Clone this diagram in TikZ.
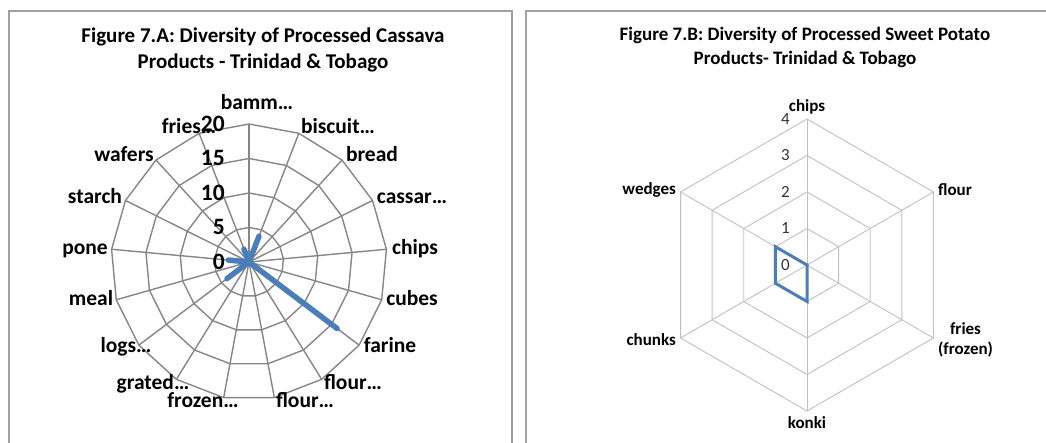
\documentclass[tikz,border=0pt]{standalone}
\usepackage{fontspec}
\setmainfont{Carlito}
\usetikzlibrary{calc}

\definecolor{seriesblue}{HTML}{4A7EBB}
\definecolor{gridgrey}{HTML}{868686}
\definecolor{gridlight}{HTML}{C0C0C0}
\definecolor{framegrey}{HTML}{A0A0A0}

\begin{document}
\begin{tikzpicture}[
        x=1pt, y=1pt,
        chartframe/.style={draw=framegrey, line width=1.3pt},
        titleA/.style={font=\fontsize{21}{26}\selectfont\bfseries, align=center},
        titleB/.style={font=\fontsize{19}{24}\selectfont\bfseries, align=center},
        gridA/.style={draw=gridgrey, line width=1.4pt},
        gridB/.style={draw=gridlight, line width=0.9pt},
        seriesA/.style={draw=seriesblue, line width=5.5pt, line join=round, line cap=round},
        seriesB/.style={draw=seriesblue, line width=3pt, line join=miter},
        catA/.style={font=\fontsize{21.5}{25}\selectfont\bfseries, inner sep=0pt, anchor=base},
        catB/.style={font=\fontsize{17}{20}\selectfont\bfseries, inner sep=1pt, align=center},
        tickA/.style={font=\fontsize{23.5}{27}\selectfont\bfseries, inner sep=0pt, anchor=base east},
        tickB/.style={font=\fontsize{17}{20}\selectfont, text=black!80, inner sep=1pt, anchor=east}
    ]

    \useasboundingbox (0,0) rectangle (1046,442);

    % frames
    \draw[chartframe]
        (9,-5) --
        (9,431) --
        (512,431) --
        (512,-5);
    \draw[chartframe]
        (526,-5) --
        (526,431) --
        (1052,431);

    % titles
    \node[titleA] (titleCassava) at (263,392)
        {Figure 7.A: Diversity of Processed Cassava\\Products - Trinidad \& Tobago};
    \node[titleB] (titleSweet) at (805,395)
        {Figure 7.B: Diversity of Processed Sweet Potato\\Products- Trinidad \& Tobago};

    % cassava radar
    \coordinate (cassava) at (249,180);
    \begin{scope}[shift={(cassava)}]
        \foreach \r in {34.5,69,103.5,138}
            \draw[gridA] (90:\r) \foreach \k in {1,...,16} { -- ({90-\k*360/17}:\r) } -- cycle;
        \foreach \k in {0,...,16}
            \draw[gridA] (0,0) -- ({90-\k*360/17}:138);

        \draw[seriesA] (90:0)
            \foreach \v [count=\k] in {4,0,0,0,0,16,0,0,0,0,4,0,3,0,0,2}
                { -- ({90-\k*360/17}:{\v*6.9}) } -- cycle;
    \end{scope}

    % cassava value axis
    \foreach \v/\t in {0/0,34.5/5,69/10,103.5/15,138/20}
        \node[tickA] (tickA\t) at ($(cassava)+(-24,\v-7.5)$) {\t};

    % cassava categories
    \node[catA] (bamm)    at (257,332.7) {bamm…};
    \node[catA] (biscuit) at (338,308.7) {biscuit…};
    \node[catA] (bread)   at (372,280.3) {bread};
    \node[catA] (cassar)  at (412,238.7) {cassar…};
    \node[catA] (chipsA)  at (415,187.7) {chips};
    \node[catA] (cubes)   at (412,137)   {cubes};
    \node[catA] (farine)  at (390,89.7)  {farine};
    \node[catA] (flourR)  at (353,53)    {flour…};
    \node[catA] (flourB)  at (305,34.7)  {flour…};
    \node[catA] (frozen)  at (203,34.7)  {frozen…};
    \node[catA] (grated)  at (153,53)    {grated…};
    \node[catA] (logs)    at (126,89.7)  {logs…};
    \node[catA] (meal)    at (91,137)    {meal};
    \node[catA] (pone)    at (85,187.7)  {pone};
    \node[catA] (starch)  at (95,238.7)  {starch};
    \node[catA] (wafers)  at (124,280.3) {wafers};
    \node[catA] (friesA)  at (189,308.7) {fries…};

    % sweet potato radar
    \coordinate (sweet) at (807,177);
    \begin{scope}[shift={(sweet)}]
        \foreach \r in {36.5,73,109.5,146}
            \draw[gridB] (90:\r) \foreach \k in {1,...,5} { -- ({90-\k*60}:\r) } -- cycle;
        \foreach \k in {0,...,5}
            \draw[gridB] (0,0) -- ({90-\k*60}:146);

        \foreach \t in {0,...,4}
            \node[tickB] (tickB\t) at (-16,{\t*36.5}) {\t};

        \node[catB, anchor=south] (chips) at (90:150) {chips};
        \node[catB, anchor=west] (flour) at (30:150) {flour};
        \node[catB, anchor=west] (fries) at (-30:150) {fries\\(frozen)};
        \node[catB, anchor=north] (konki) at (-90:150) {konki};
        \node[catB, anchor=east] (chunks) at (-150:150) {chunks};
        \node[catB, anchor=east] (wedges) at (150:150) {wedges};

        \draw[seriesB]
            (0,0) --
            (30:0) --
            (-30:0) --
            (-90:36.5) --
            (-150:36.5) --
            (150:36.5) --
            cycle;
    \end{scope}

\end{tikzpicture}
\end{document}
